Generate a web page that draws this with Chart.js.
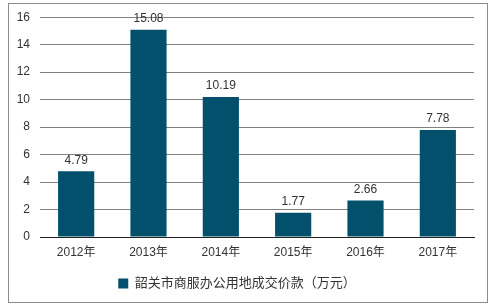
<!DOCTYPE html>
<html>
<head>
<meta charset="utf-8">
<script src="https://cdn.jsdelivr.net/npm/chart.js@4.4.0/dist/chart.umd.min.js"></script>
<style>
  html, body { margin: 0; padding: 0; background: #fff; }
  #wrap { width: 493px; height: 306px; position: relative; }
</style>
</head>
<body>
<div id="wrap"><canvas id="chart-1" width="493" height="306"></canvas></div>
<script>
var years = ["2012年", "2013年", "2014年", "2015年", "2016年", "2017年"];
var price_values = [4.79, 15.08, 10.19, 1.77, 2.66, 7.78];
var y_ticks = [0, 2, 4, 6, 8, 10, 12, 14, 16];
var series_name = "韶关市商服办公用地成交价款（万元）";

var FONT = "'Liberation Sans', 'Noto Sans CJK SC', sans-serif";

// outer frame around the whole chart
var framePlugin = {
    id: "frame",
    beforeDraw: function(chart) {
        var c = chart.ctx;
        c.save();
        c.fillStyle = "#fff";
        c.fillRect(0, 0, chart.width, chart.height);
        c.strokeStyle = "#8c8c8c";
        c.lineWidth = 1;
        c.strokeRect(8.5, 3.5, 479, 299);
        c.restore();
    }
};

// value labels above bars
var valueLabels = {
    id: "valueLabels",
    afterDatasetsDraw: function(chart) {
        var c = chart.ctx;
        var meta = chart.getDatasetMeta(0);
        c.save();
        c.font = "12px " + FONT;
        c.fillStyle = "#333";
        c.textAlign = "center";
        c.textBaseline = "bottom";
        meta.data.forEach(function(bar, i) {
            c.fillText(price_values[i].toFixed(2), bar.x, bar.y - 5);
        });
        c.restore();
    }
};

const ctx = document.getElementById("chart-1").getContext("2d");
const myChart = new Chart(ctx, {
    type: "bar",
    data: {
        labels: years,
        datasets: [{
            label: series_name,
            data: price_values,
            backgroundColor: "#02506b",
            borderWidth: 0,
            barPercentage: 0.5,
            categoryPercentage: 1,
        }],
    },
    options: {
        responsive: false,
        animation: false,
        layout: {
            padding: { left: 0, right: 19, top: 17, bottom: 6 },
        },
        plugins: {
            legend: {
                position: "bottom",
                labels: {
                    boxWidth: 10,
                    boxHeight: 10,
                    padding: 10,
                    color: "#333",
                    font: { size: 13, family: FONT },
                },
            },
            tooltip: { enabled: false },
        },
        scales: {
            x: {
                grid: { display: false },
                border: { display: true, color: "#222", width: 1 },
                ticks: {
                    color: "#333",
                    padding: 0,
                    maxRotation: 0,
                    font: { size: 12, family: FONT },
                },
                afterFit: function(s) { s.height = 30; },
            },
            y: {
                min: 0,
                max: 16,
                afterBuildTicks: function(s) {
                    s.ticks = y_ticks.map(function(v) { return { value: v }; });
                },
                grid: { color: "#808080", drawTicks: false },
                border: { display: false },
                ticks: {
                    color: "#333",
                    padding: 10,
                    font: { size: 12, family: FONT },
                },
                afterFit: function(s) { s.width = 40; },
            },
        },
    },
    plugins: [framePlugin, valueLabels],
});
</script>
</body>
</html>
